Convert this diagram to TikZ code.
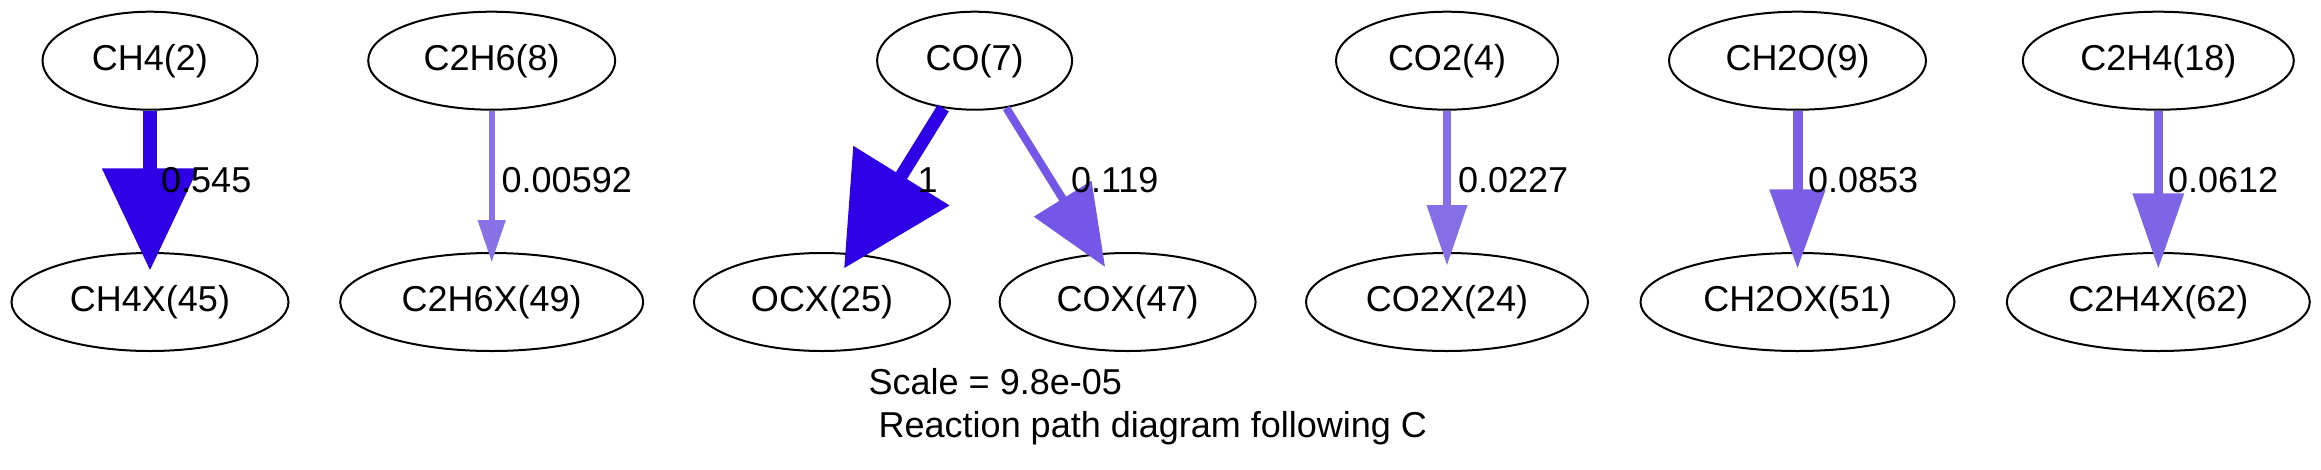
\documentclass[tikz,border=0pt]{standalone}
\usepackage{fontspec}
\setmainfont{Liberation Sans}
\usetikzlibrary{shapes.geometric,calc}
\definecolor{fA}{RGB}{46,0,230}
\definecolor{fB}{RGB}{137,113,230}
\definecolor{fC}{RGB}{116,87,230}
\definecolor{fD}{RGB}{134,110,230}
\definecolor{fE}{RGB}{122,95,230}
\definecolor{fF}{RGB}{126,101,230}
% #1 colour, #2 shaft width, #3 start, #4 tip, #5 head length, #6 half head width
\newcommand\grarrow[6]{%
  \coordinate (gs) at #3;
  \coordinate (gt) at #4;
  \coordinate (gb) at ($(gt)!#5!(gs)$);
  \draw[line width=#2, draw=#1] (gs) -- ($(gb)!1pt!(gt)$);
  \fill[#1] (gt) -- ($(gb)!#6!90:(gt)$) -- ($(gb)!#6!-90:(gt)$) -- cycle;%
}
\begin{document}
\begin{tikzpicture}[x=1pt,y=1pt,
  species/.style={ellipse, draw=black, line width=2pt, inner sep=0pt,
    minimum height=98pt, font=\fontsize{36}{43}\selectfont},
  flux/.style={anchor=base west, inner sep=0pt, font=\fontsize{36}{43}\selectfont},
  caption/.style={anchor=base west, inner sep=0pt, font=\fontsize{36}{43}\selectfont}]
\useasboundingbox[fill=white] (0,0) rectangle (2321,-469);
% top row
\node[species, minimum width=215pt] (CH4) at (150,-60.7) {CH4(2)};
\node[species, minimum width=247pt] (C2H6) at (491.7,-60.7) {C2H6(8)};
\node[species, minimum width=195pt] (CO) at (974.6,-60.7) {CO(7)};
\node[species, minimum width=222pt] (CO2) at (1447,-60.7) {CO2(4)};
\node[species, minimum width=257pt] (CH2O) at (1797.5,-60.7) {CH2O(9)};
\node[species, minimum width=271pt] (C2H4) at (2158.3,-60.7) {C2H4(18)};
% bottom row
\node[species, minimum width=277pt] (CH4X) at (150,-302) {CH4X(45)};
\node[species, minimum width=303pt] (C2H6X) at (491.7,-302) {C2H6X(49)};
\node[species, minimum width=256pt] (OCX) at (822,-302) {OCX(25)};
\node[species, minimum width=256pt] (COX) at (1127.6,-302) {COX(47)};
\node[species, minimum width=282pt] (CO2X) at (1447,-302) {CO2X(24)};
\node[species, minimum width=314pt] (CH2OX) at (1797.5,-302) {CH2OX(51)};
\node[species, minimum width=303pt] (C2H4X) at (2158.3,-302) {C2H4X(62)};
% connectors
\grarrow{fA}{13.4pt}{(CH4.south)}{($(CH4X.north)+(0,-18)$)}{101.7pt}{48.2pt}
\grarrow{fB}{5.7pt}{(C2H6.south)}{($(C2H6X.north)+(0,-9.7)$)}{41.7pt}{14.2pt}
\grarrow{fA}{13pt}{($(CO.center)+(-31.3,-47.3)$)}{($(OCX.center)+(22.3,34)$)}{108.6pt}{56.6pt}
\grarrow{fC}{8pt}{($(CO.center)+(31.7,-47.3)$)}{($(COX.center)+(-22.7,35.3)$)}{80pt}{34pt}
\grarrow{fD}{8pt}{(CO2.south)}{($(CO2X.north)+(0,-13)$)}{60pt}{20.5pt}
\grarrow{fE}{10pt}{(CH2O.south)}{($(CH2OX.north)+(0,-16)$)}{78.7pt}{28.3pt}
\grarrow{fF}{9.3pt}{(C2H4.south)}{($(C2H4X.north)+(0,-16)$)}{74.7pt}{26pt}
% flux labels
\node[flux] (l1) at (161,-192) {0.545};
\node[flux] (l2) at (501.5,-192) {0.00592};
\node[flux] (l3) at (917.5,-192) {1};
\node[flux] (l4) at (1070.8,-192) {0.119};
\node[flux] (l5) at (1457.8,-192) {0.0227};
\node[flux] (l6) at (1807.8,-192) {0.0853};
\node[flux] (l7) at (2167.8,-192) {0.0612};
% caption
\node[caption] (sc) at (868.5,-394.3) {Scale = 9.8e-05};
\node[caption] (rp) at (878.5,-437) {Reaction path diagram following C};
\end{tikzpicture}
\end{document}
